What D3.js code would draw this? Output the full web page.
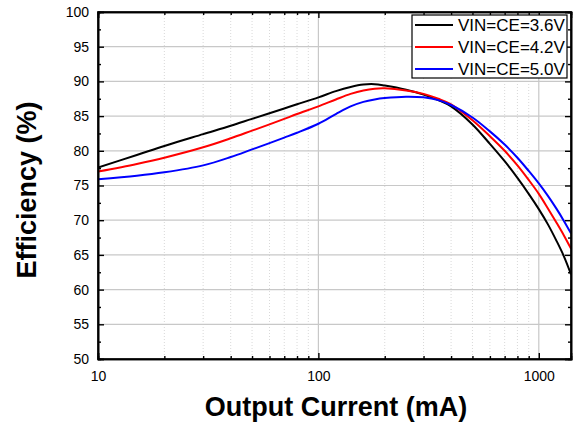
<!DOCTYPE html>
<html>
<head>
<meta charset="utf-8">
<script src="https://cdn.jsdelivr.net/npm/d3@7"></script>
<style>
  html, body { margin: 0; padding: 0; background: #fff; }
  svg { display: block; font-family: "Liberation Sans", Arial, sans-serif; }
</style>
</head>
<body>
<svg id="chart" width="574" height="426"></svg>
<script>
// ---- Data ----
const current = [10, 15, 20, 30, 40, 50, 60, 70, 80, 100, 120, 140, 160, 180, 200, 250, 300, 350, 400, 500, 600, 700, 800, 900, 1000, 1100, 1200, 1300, 1400];
const eff36 = [77.6, 79.4, 80.7, 82.4, 83.6, 84.6, 85.4, 86.1, 86.7, 87.7, 88.6, 89.2, 89.55, 89.6, 89.4, 88.8, 88.1, 87.3, 86.4, 83.8, 81.0, 78.5, 76.1, 73.8, 71.6, 69.4, 67.1, 64.8, 62.2];
const eff42 = [77.0, 78.1, 79.0, 80.5, 81.8, 82.9, 83.8, 84.6, 85.3, 86.4, 87.4, 88.2, 88.7, 88.95, 89.0, 88.7, 88.2, 87.5, 86.7, 84.4, 82.1, 80.0, 77.9, 75.8, 73.8, 71.7, 69.7, 67.8, 65.9];
const eff50 = [75.9, 76.4, 76.9, 77.9, 79.1, 80.2, 81.1, 81.9, 82.6, 83.9, 85.3, 86.4, 87.05, 87.4, 87.6, 87.8, 87.7, 87.3, 86.6, 84.8, 82.8, 80.9, 79.0, 77.1, 75.3, 73.5, 71.7, 69.9, 68.1];
const seriesNames = ["VIN=CE=3.6V", "VIN=CE=4.2V", "VIN=CE=5.0V"];
const seriesColors = ["#000000", "#ff0000", "#0000ff"];
const yTicks = [50, 55, 60, 65, 70, 75, 80, 85, 90, 95, 100];
const xTicks = [10, 100, 1000];
const xTitle = "Output Current (mA)";
const yTitle = "Efficiency (%)";

const seriesValues = [eff36, eff42, eff50];

// ---- Layout ----
const svg = d3.select("#chart");
const L = 98, R = 571, T = 12, B = 359;

const x = d3.scaleLog().domain([10, 1400]).range([L, R]);
const y = d3.scaleLinear().domain([50, 100]).range([B, T]);

// minor x values
const xMinor = [];
[10, 100, 1000].forEach(d => { for (let k = 2; k <= 9; k++) { const v = d * k; if (v < 1400) xMinor.push(v); } });
const yMinor = d3.range(52.5, 100, 5);

// grid
const grid = svg.append("g");
grid.selectAll(".xminor").data(xMinor).enter().append("line")
  .attr("x1", d => x(d)).attr("x2", d => x(d)).attr("y1", T).attr("y2", B)
  .attr("stroke", "#d9d9d9").attr("stroke-width", 1).attr("stroke-dasharray", "1,2");
grid.selectAll(".xmajor").data([100, 1000]).enter().append("line")
  .attr("x1", d => x(d)).attr("x2", d => x(d)).attr("y1", T).attr("y2", B)
  .attr("stroke", "#c8c8c8").attr("stroke-width", 1.2);
grid.selectAll(".ymajor").data(yTicks.slice(1, -1)).enter().append("line")
  .attr("x1", L).attr("x2", R).attr("y1", d => y(d)).attr("y2", d => y(d))
  .attr("stroke", "#c8c8c8").attr("stroke-width", 1.2);

// series
const line = d3.line().x(d => x(d[0])).y(d => y(d[1])).curve(d3.curveCatmullRom.alpha(0.5));
const plot = svg.append("g");
plot.append("clipPath").attr("id", "clip").append("rect")
  .attr("x", L).attr("y", T).attr("width", R - L).attr("height", B - T);
seriesValues.forEach((vals, i) => {
  plot.append("path")
    .datum(current.map((c, j) => [c, vals[j]]))
    .attr("d", line)
    .attr("fill", "none")
    .attr("stroke", seriesColors[i])
    .attr("stroke-width", 2)
    .attr("stroke-linejoin", "round")
    .attr("clip-path", "url(#clip)");
});

// axes (ticks inward)
const axL = svg.append("g").attr("transform", `translate(${L},0)`)
  .call(d3.axisLeft(y).tickValues(yTicks).tickSize(-6).tickPadding(9).tickFormat(d3.format("d")));
const axLm = svg.append("g").attr("transform", `translate(${L},0)`)
  .call(d3.axisLeft(y).tickValues(yMinor).tickSize(-3).tickFormat(""));
const axR = svg.append("g").attr("transform", `translate(${R},0)`)
  .call(d3.axisRight(y).tickValues(yTicks).tickSize(-6).tickFormat(""));
const axRm = svg.append("g").attr("transform", `translate(${R},0)`)
  .call(d3.axisRight(y).tickValues(yMinor).tickSize(-3).tickFormat(""));
const axB = svg.append("g").attr("transform", `translate(0,${B})`)
  .call(d3.axisBottom(x).tickValues(xTicks).tickSize(-6).tickPadding(12).tickFormat(d3.format("d")));
const axBm = svg.append("g").attr("transform", `translate(0,${B})`)
  .call(d3.axisBottom(x).tickValues(xMinor).tickSize(-3).tickFormat(""));
const axT = svg.append("g").attr("transform", `translate(0,${T})`)
  .call(d3.axisTop(x).tickValues(xTicks).tickSize(-6).tickFormat(""));
const axTm = svg.append("g").attr("transform", `translate(0,${T})`)
  .call(d3.axisTop(x).tickValues(xMinor).tickSize(-3).tickFormat(""));

[axL, axLm, axR, axRm, axB, axBm, axT, axTm].forEach(g => {
  g.select(".domain").attr("stroke", "#000").attr("stroke-width", 1.6);
  g.selectAll(".tick line").attr("stroke", "#000").attr("stroke-width", 1.4);
  g.selectAll("text").attr("font-size", 14).attr("fill", "#000")
    .attr("font-family", '"Liberation Sans", Arial, sans-serif');
});

// frame
svg.append("rect").attr("x", L).attr("y", T).attr("width", R - L).attr("height", B - T)
  .attr("fill", "none").attr("stroke", "#000").attr("stroke-width", 1.6);

// titles
svg.append("text").attr("x", 336).attr("y", 416).attr("text-anchor", "middle")
  .attr("font-size", 27).attr("font-weight", "bold").text(xTitle);
svg.append("text").attr("transform", "translate(36,190) rotate(-90)").attr("text-anchor", "middle")
  .attr("font-size", 27).attr("font-weight", "bold").text(yTitle);

// legend
const lg = svg.append("g");
lg.append("rect").attr("x", 412).attr("y", 15).attr("width", 155).attr("height", 63)
  .attr("fill", "#fff").attr("stroke", "#000").attr("stroke-width", 1.2);
seriesNames.forEach((name, i) => {
  const yy = 25 + i * 22;
  lg.append("line").attr("x1", 415).attr("x2", 453).attr("y1", yy).attr("y2", yy)
    .attr("stroke", seriesColors[i]).attr("stroke-width", 2);
  lg.append("text").attr("x", 458).attr("y", yy + 6).attr("font-size", 17).attr("fill", "#000").text(name);
});
</script>
</body>
</html>
